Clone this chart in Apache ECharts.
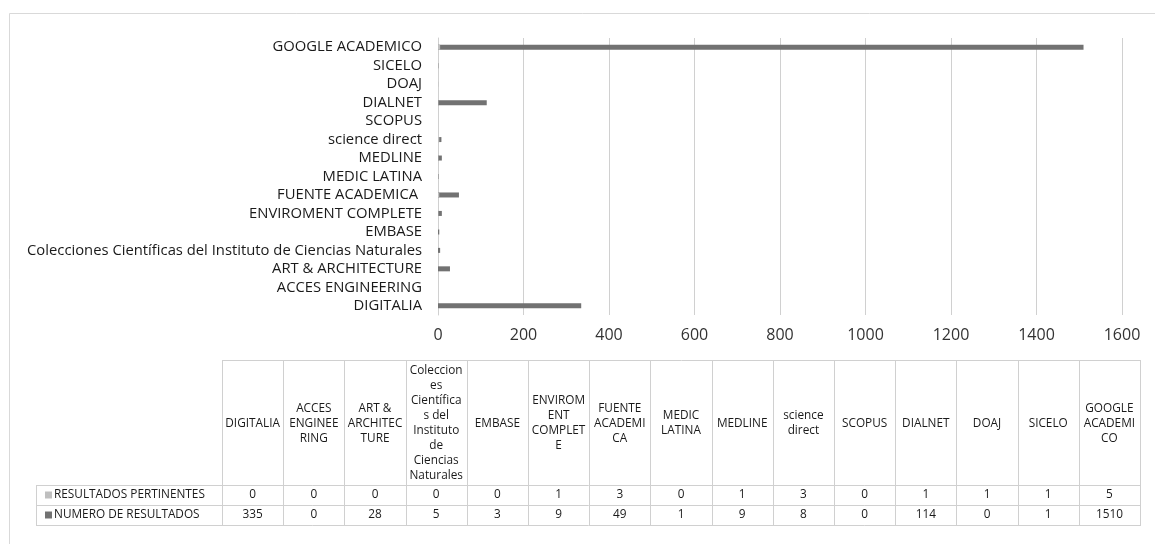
<!DOCTYPE html>
<html><head><meta charset="utf-8">
<script src="https://cdn.jsdelivr.net/npm/echarts@6/dist/echarts.min.js"></script>
<style>html,body{margin:0;padding:0;background:#fff}#c{width:1155px;height:544px}</style>
</head><body><div id="c"></div>
<script>
// ---- data ----
const categories = ['DIGITALIA','ACCES ENGINEERING','ART & ARCHITECTURE','Colecciones Científicas del Instituto de Ciencias Naturales','EMBASE','ENVIROMENT COMPLETE','FUENTE ACADEMICA ','MEDIC LATINA','MEDLINE','science direct','SCOPUS','DIALNET','DOAJ','SICELO','GOOGLE ACADEMICO'];
const tableHeaders = ['DIGITALIA','ACCES\nENGINEE\nRING','ART &\nARCHITEC\nTURE','Coleccion\nes\nCientífica\ns del\nInstituto\nde\nCiencias\nNaturales','EMBASE','ENVIROM\nENT\nCOMPLET\nE','FUENTE\nACADEMI\nCA','MEDIC\nLATINA','MEDLINE','science\ndirect','SCOPUS','DIALNET','DOAJ','SICELO','GOOGLE\nACADEMI\nCO'];
const seriesNames = ['RESULTADOS PERTINENTES','NUMERO DE RESULTADOS'];
const pertinentes = [0,0,0,0,0,1,3,0,1,3,0,1,1,1,5];
const numero = [335,0,28,5,3,9,49,1,9,8,0,114,0,1,1510];
const xMin = 0, xMax = 1600, xInterval = 200;

// ---- style ----
const FONT = '"Open Sans"';
const TXT = '#1a1a1a';
const GRID = '#d0d0d0';
const COLORS = ['#bfbfbf', '#727272'];

// ---- table (built from the arrays) ----
const tLeft = 222, tRight = 1140, labelLeft = 36;
const tTop = 360, headBottom = 485, rowH = 20;
const colW = (tRight - tLeft) / categories.length;
const rows = [pertinentes, numero];
const g = [];
g.push({type:'rect', shape:{x:9.5,y:13.5,width:1170,height:560}, style:{fill:null, stroke:'#d9d9d9', lineWidth:1}, silent:true});
const hl = (x1,x2,y) => g.push({type:'line', shape:{x1:x1,y1:Math.round(y)+0.5,x2:x2,y2:Math.round(y)+0.5}, style:{stroke:GRID,lineWidth:1}, silent:true});
const vl = (x,y1,y2) => g.push({type:'line', shape:{x1:Math.round(x)+0.5,y1:y1,x2:Math.round(x)+0.5,y2:y2}, style:{stroke:GRID,lineWidth:1}, silent:true});
hl(tLeft, tRight+1, tTop);
for (let r = 0; r <= rows.length; r++) hl(labelLeft, tRight+1, headBottom + r*rowH);
vl(labelLeft, headBottom, headBottom + rows.length*rowH);
for (let i = 0; i <= categories.length; i++) vl(tLeft + i*colW, tTop, headBottom + rows.length*rowH);
const TFONT = '11.8px ' + FONT;
tableHeaders.forEach((h, i) => {
  g.push({type:'text', x: tLeft + (i+0.5)*colW, y: (tTop+headBottom)/2 + 1, silent:true,
    style:{text:h, fill:TXT, font:TFONT, align:'center', verticalAlign:'middle', lineHeight:15}});
});
rows.forEach((vals, r) => {
  const cy = headBottom + (r+0.5)*rowH;
  g.push({type:'rect', shape:{x:45, y:Math.round(cy)-3.5, width:7, height:7}, style:{fill:COLORS[r]}, silent:true});
  g.push({type:'text', x:54, y:cy, silent:true, style:{text:seriesNames[r], fill:TXT, font:TFONT, align:'left', verticalAlign:'middle'}});
  vals.forEach((v, i) => {
    g.push({type:'text', x: tLeft + (i+0.5)*colW, y: cy, silent:true,
      style:{text:String(v), fill:TXT, font:TFONT, align:'center', verticalAlign:'middle'}});
  });
});

const chart = echarts.init(document.getElementById('c'), null, {renderer:'canvas'});
chart.setOption({
  animation:false,
  backgroundColor:'#fff',
  textStyle:{fontFamily:'Open Sans'},
  grid:{left:438, right:33, top:38, bottom:229, containLabel:false},
  xAxis:{type:'value', min:xMin, max:xMax, interval:xInterval,
    axisLine:{show:false}, axisTick:{show:false},
    splitLine:{lineStyle:{color:GRID, width:1}},
    axisLabel:{fontSize:16, color:'#333', margin:12, fontFamily:'Open Sans', formatter:(v)=>String(v)}},
  yAxis:{type:'category', data:categories,
    axisLine:{show:true, lineStyle:{color:GRID}}, axisTick:{show:false},
    axisLabel:{interval:0, hideOverlap:false, fontSize:14.8, color:TXT, margin:16, fontFamily:'Open Sans'}},
  series:[
    {name:seriesNames[1], type:'bar', data:numero, barWidth:5, barGap:'-100%', itemStyle:{color:COLORS[1]}},
    {name:seriesNames[0], type:'bar', data:pertinentes, barWidth:5, barGap:'-100%', itemStyle:{color:COLORS[0]}}
  ],
  graphic:g
});
</script></body></html>
